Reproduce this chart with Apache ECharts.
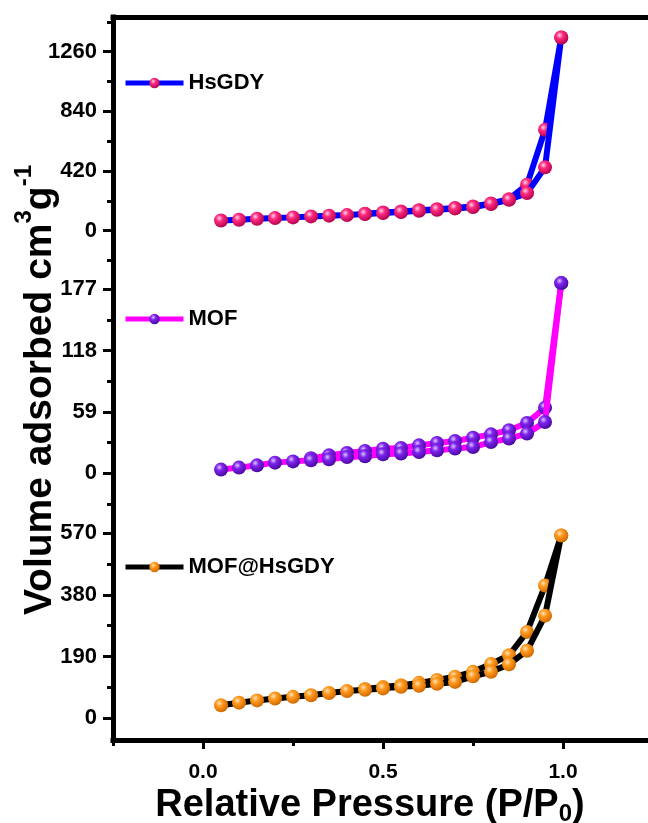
<!DOCTYPE html>
<html>
<head>
<meta charset="utf-8">
<script src="https://cdn.jsdelivr.net/npm/echarts@6/dist/echarts.min.js"></script>
<style>
html, body { margin: 0; padding: 0; background: #fff; }
#chart { width: 648px; height: 823px; }
</style>
</head>
<body>
<div id="chart"></div>
<script>
var fontFamily = "'Liberation Sans', Arial, sans-serif";

// relative pressure of each point: adsorption goes up, desorption comes back down
var adsPressure = [0.05, 0.10, 0.15, 0.20, 0.25, 0.30, 0.35, 0.40, 0.45, 0.50, 0.55, 0.60, 0.65, 0.70, 0.75, 0.80, 0.85, 0.90, 0.95, 0.995];
var desPressure = [0.995, 0.95, 0.90, 0.85, 0.80, 0.75, 0.70, 0.65, 0.60, 0.55, 0.50, 0.45, 0.40, 0.35, 0.30];

// volume adsorbed (cm3/g)
var hsgdyAds = [72, 77, 84, 89, 94, 101, 106, 110, 117, 125, 132, 141, 148, 157, 167, 188, 218, 265, 446, 1360];
var hsgdyDes = [1360, 711, 324, 222, 192, 171, 160, 151, 144, 135, 128, 120];
var mofAds = [3.6, 5.5, 7.7, 10.3, 11.5, 12.5, 13.5, 15.7, 16.4, 18.3, 19.0, 20.5, 22.1, 23.8, 25.3, 30.1, 33.4, 38.2, 49.4, 183];
var mofDes = [183, 63.2, 48.4, 41.4, 37.5, 34.3, 31.0, 29.2, 26.9, 24.4, 23.7, 21.5, 19.5, 17.3, 14.5];
var mofHsgdyAds = [40, 48, 55, 61, 66, 71, 78, 84, 88, 92, 97, 100, 106, 112, 129, 143, 166, 208, 316, 563];
var mofHsgdyDes = [563, 409, 266, 194, 167, 143, 128, 118, 109, 102, 96, 90];

// tick labels
var hsgdyTicks = [0, 420, 840, 1260];
var hsgdyMinorTicks = [-210, 210, 630, 1050, 1470];
var mofTicks = [0, 59, 118, 177];
var mofMinorTicks = [-29.5, 29.5, 88.5, 147.5];
var mofHsgdyTicks = [0, 190, 380, 570];
var mofHsgdyMinorTicks = [95, 285, 475];
var pressureTicks = [0, 0.5, 1.0];
var pressureMinorTicks = [-0.25, 0.25, 0.75];

function pairs(ps, vs) {
    return vs.map(function (v, i) { return [ps[i], v]; });
}

function ball(light, mid, dark) {
    return {
        type: 'radial', x: 0.38, y: 0.34, r: 0.7,
        colorStops: [
            { offset: 0, color: light },
            { offset: 0.35, color: mid },
            { offset: 1, color: dark }
        ]
    };
}

var panels = [
    { name: 'HsGDY', ads: hsgdyAds, des: hsgdyDes, ticks: hsgdyTicks, minor: hsgdyMinorTicks,
      min: -220, max: 1504, top: 17, height: 245, legendTop: 72,
      line: '#0000ff', ball: ball('#ffd6e6', '#ff2a7f', '#b0004c') },
    { name: 'MOF', ads: mofAds, des: mofDes, ticks: mofTicks, minor: mofMinorTicks,
      min: -29.5, max: 203.3, top: 262, height: 242, legendTop: 308,
      line: '#ff00ff', ball: ball('#dcc6ff', '#7f22ee', '#45089a') },
    { name: 'MOF@HsGDY', ads: mofHsgdyAds, des: mofHsgdyDes, ticks: mofHsgdyTicks, minor: mofHsgdyMinorTicks,
      min: -67, max: 660, top: 504, height: 236, legendTop: 556,
      line: '#000000', ball: ball('#ffe4bd', '#ff9a1f', '#cc6600') }
];

var axisLine = { show: true, onZero: false, lineStyle: { color: '#000', width: 5, cap: 'square' } };
var labelStyle = { color: '#000', fontSize: 22, fontWeight: 'bold', fontFamily: fontFamily };

var grid = [], xAxis = [], yAxis = [], series = [], legend = [];

panels.forEach(function (p, i) {
    grid.push({ left: 113, right: 0, top: p.top, height: p.height, outerBoundsMode: 'none' });

    var last = i === panels.length - 1;
    xAxis.push({
        type: 'value', gridIndex: i, min: -0.25, max: 1.236,
        show: i !== 1,
        position: last ? 'bottom' : 'top',
        axisLine: axisLine,
        splitLine: { show: false },
        axisTick: last ? { show: true, inside: false, length: 9, customValues: pressureTicks,
                           lineStyle: { color: '#000', width: 3 } } : { show: false },
        axisLabel: last ? { show: true, margin: 22, customValues: pressureTicks, color: '#000',
                            fontSize: 21, fontWeight: 'bold', fontFamily: fontFamily,
                            formatter: function (v) { return v.toFixed(1); } } : { show: false }
    });

    // labelled ticks
    yAxis.push({
        type: 'value', gridIndex: i, min: p.min, max: p.max, position: 'left',
        axisLine: axisLine,
        splitLine: { show: false },
        axisTick: { show: true, length: 10, customValues: p.ticks, lineStyle: { color: '#000', width: 3 } },
        axisLabel: Object.assign({ show: true, margin: 16, customValues: p.ticks,
                                   formatter: function (v) { return String(v); } }, labelStyle)
    });
    // short minor ticks
    yAxis.push({
        type: 'value', gridIndex: i, min: p.min, max: p.max, position: 'left',
        axisLine: { show: false, onZero: false },
        splitLine: { show: false },
        axisTick: { show: true, length: 6, customValues: p.minor, lineStyle: { color: '#000', width: 3 } },
        axisLabel: { show: false }
    });

    [[adsPressure, p.ads, 3], [desPressure, p.des, 2]].forEach(function (b) {
        series.push({
            name: p.name, type: 'line', xAxisIndex: i, yAxisIndex: 2 * i,
            data: pairs(b[0], b[1]),
            symbol: 'circle', symbolSize: 14,
            lineStyle: { color: p.line, width: 6 },
            itemStyle: { color: p.ball, borderWidth: 0 },
            z: b[2], animation: false
        });
    });

    legend.push({
        data: [p.name], left: 123, top: p.legendTop, padding: 0,
        itemWidth: 58, itemHeight: 13, selectedMode: false,
        lineStyle: { width: 5, color: p.line },
        textStyle: labelStyle
    });
});

// minor ticks on the pressure axis
xAxis.push({
    type: 'value', gridIndex: 2, min: -0.25, max: 1.236, position: 'bottom',
    axisLine: { show: false, onZero: false },
    splitLine: { show: false },
    axisTick: { show: true, length: 6, customValues: pressureMinorTicks, lineStyle: { color: '#000', width: 3 } },
    axisLabel: { show: false }
});

var chart = echarts.init(document.getElementById('chart'));
chart.setOption({
    backgroundColor: '#fff',
    animation: false,
    grid: grid,
    xAxis: xAxis,
    yAxis: yAxis,
    legend: legend,
    series: series,
    graphic: [
        {
            type: 'text', x: 40, y: 390, rotation: Math.PI / 2,
            style: {
                text: 'Volume adsorbed cm{sup|3}g{sup|-1}',
                fill: '#000', fontSize: 39, fontWeight: 'bold', fontFamily: fontFamily,
                lineHeight: 56, align: 'center', verticalAlign: 'middle',
                rich: { sup: { fontSize: 24, lineHeight: 26, fontWeight: 'bold', fontFamily: fontFamily, verticalAlign: 'top', fill: '#000' } }
            }
        },
        {
            type: 'text', x: 370, y: 806,
            style: {
                text: 'Relative Pressure (P/P{sub|0})',
                fill: '#000', fontSize: 38, fontWeight: 'bold', fontFamily: fontFamily,
                lineHeight: 40, align: 'center', verticalAlign: 'middle',
                rich: { sub: { fontSize: 24, lineHeight: 30, fontWeight: 'bold', fontFamily: fontFamily, verticalAlign: 'bottom', fill: '#000' } }
            }
        }
    ]
});
</script>
</body>
</html>
